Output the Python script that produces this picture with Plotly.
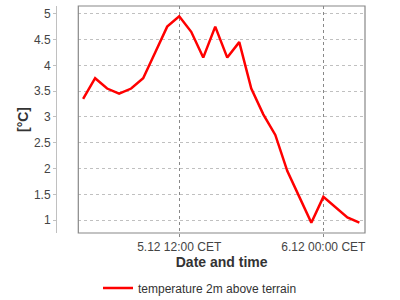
import plotly.graph_objects as go

times = [
    "2023-12-05 04:00", "2023-12-05 05:00", "2023-12-05 06:00", "2023-12-05 07:00",
    "2023-12-05 08:00", "2023-12-05 09:00", "2023-12-05 10:00", "2023-12-05 11:00",
    "2023-12-05 12:00", "2023-12-05 13:00", "2023-12-05 14:00", "2023-12-05 15:00",
    "2023-12-05 16:00", "2023-12-05 17:00", "2023-12-05 18:00", "2023-12-05 19:00",
    "2023-12-05 20:00", "2023-12-05 21:00", "2023-12-05 22:00", "2023-12-05 23:00",
    "2023-12-06 00:00", "2023-12-06 01:00", "2023-12-06 02:00", "2023-12-06 03:00",
]
temperature = [3.35, 3.75, 3.55, 3.45, 3.55, 3.75, 4.25, 4.75,
               4.95, 4.65, 4.15, 4.75, 4.15, 4.45, 3.55, 3.05,
               2.65, 1.95, 1.45, 0.95, 1.45, 1.25, 1.05, 0.95]
series_name = "temperature 2m above terrain"
x_tick_vals = ["2023-12-05 12:00", "2023-12-06 00:00"]
x_tick_text = ["5.12 12:00 CET", "6.12 00:00 CET"]
x_title = "Date and time"
y_title = "[°C]"

FONT = "Liberation Sans, Arial, sans-serif"
x0_dom = 22.3 / 309

fig = go.Figure()
fig.add_trace(go.Scatter(
    x=times, y=temperature, mode="lines", name=series_name,
    line=dict(color="#ff0000", width=2.5),
))

fig.update_layout(
    width=400, height=300,
    margin=dict(l=56, r=35, t=6, b=67, autoexpand=False),
    paper_bgcolor="white", plot_bgcolor="white",
    font=dict(family=FONT, size=12, color="#444"),
    showlegend=True,
    legend=dict(orientation="h", xref="container", yref="container",
                x=0.5, xanchor="center", y=0.04, yanchor="middle",
                font=dict(size=12, color="#333"), bgcolor="rgba(0,0,0,0)"),
    xaxis=dict(
        domain=[x0_dom, 1],
        automargin=False,
        type="date",
        range=["2023-12-05 03:36", "2023-12-06 03:28"],
        tickvals=x_tick_vals, ticktext=x_tick_text,
        showgrid=True, gridcolor="#888", griddash="dot", gridwidth=1,
        ticks="outside", ticklen=3, tickcolor="#888",
        showline=False, zeroline=False,
        tickfont=dict(size=12, color="#444"),
        title=dict(text=x_title, font=dict(size=14, color="#333", family=FONT, weight="bold"),
                   standoff=3),
    ),
    yaxis=dict(
        anchor="free", position=0,
        automargin=False,
        range=[0.75, 5.15],
        tick0=1, dtick=0.5,
        showgrid=True, gridcolor="#c0c0c0", griddash="3px,3px", gridwidth=1,
        ticks="outside", ticklen=3, tickcolor="#c0c0c0",
        showline=True, linecolor="#c0c0c0", linewidth=1,
        zeroline=False,
        tickfont=dict(size=12, color="#444"),
        title=dict(text=y_title, font=dict(size=14, color="#333", family=FONT, weight="bold"),
                   standoff=1),
    ),
    shapes=[dict(type="rect", xref="paper", yref="paper",
                 x0=x0_dom, x1=1, y0=0, y1=1,
                 line=dict(color="#888", width=1.2), layer="above")],
)

fig.write_html("out.html")
